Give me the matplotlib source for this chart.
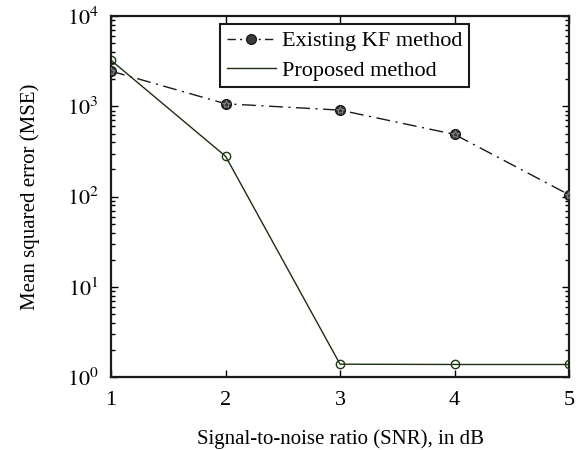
import matplotlib
matplotlib.use("Agg")
import matplotlib.pyplot as plt
from matplotlib.lines import Line2D
from matplotlib.ticker import LogLocator, FixedLocator, NullFormatter

plt.rcParams['font.family'] = ['Liberation Serif', 'DejaVu Serif']
plt.rcParams['mathtext.fontset'] = 'stix'

snr = [1, 2, 3, 4, 5]
mse_kf = [2460, 1070, 910, 490, 105]
mse_proposed = [3240, 280, 1.39, 1.38, 1.38]
x_ticks = [1, 2, 3, 4, 5]
y_ticks = [1, 10, 100, 1000, 10000]
y_tick_labels = [r'$10^{0}$', r'$10^{1}$', r'$10^{2}$', r'$10^{3}$', r'$10^{4}$']
series_labels = ['Existing KF method', 'Proposed method']

fig = plt.figure(figsize=(5.85, 4.5), dpi=100)
ax = fig.add_axes([0.19, 0.162, 0.7826, 0.802])

kf_style = (0, (10, 4, 1.5, 4))
ax.plot(snr, mse_kf, color='#1a1a1a', lw=1.0, linestyle=kf_style,
        marker='o', markersize=7, markerfacecolor='#3a3a3a',
        markeredgecolor='#1a1a1a', zorder=3)
ax.plot(snr, mse_kf, linestyle='none', marker='*', markersize=6,
        markerfacecolor='none', markeredgecolor='#8a8a8a', markeredgewidth=0.6,
        zorder=4)
ax.plot(snr, mse_proposed, color='#1e2d14', lw=1.0,
        marker='o', markersize=6, markerfacecolor='none',
        markeredgecolor='#1e3a10', markeredgewidth=1.0, zorder=3)

ax.set_yscale('log')
ax.set_xlim(1, 5)
ax.set_ylim(1, 10000)
ax.xaxis.set_major_locator(FixedLocator(x_ticks))
ax.set_xticklabels([str(v) for v in x_ticks])
ax.yaxis.set_major_locator(FixedLocator(y_ticks))
ax.set_yticklabels(y_tick_labels)
ax.yaxis.set_minor_locator(LogLocator(base=10, subs=range(2, 10), numticks=20))
ax.yaxis.set_minor_formatter(NullFormatter())

ax.tick_params(which='both', direction='in', top=True, right=True,
               labelsize=16, width=1.0)
ax.tick_params(which='major', length=5)
ax.tick_params(axis='x', which='major', pad=10)
ax.tick_params(axis='y', which='major', pad=9)
ax.tick_params(which='minor', length=3)
for s in ax.spines.values():
    s.set_linewidth(1.6)
    s.set_color('#1a1a1a')

ax.set_xlabel('Signal-to-noise ratio (SNR), in dB', fontsize=15, labelpad=14)
ax.set_ylabel('Mean squared error (MSE)', fontsize=15, labelpad=19)

handles = [
    Line2D([], [], color='#1a1a1a', lw=1.0, linestyle=(0, (6, 3, 1.5, 3)),
           marker='o', markersize=7, markerfacecolor='#3a3a3a',
           markeredgecolor='#1a1a1a'),
    Line2D([], [], color='#1e2d14', lw=1.0),
]
leg = ax.legend(handles, series_labels, loc='upper center',
                bbox_to_anchor=(0.51, 0.978), fontsize=16,
                fancybox=False, framealpha=1, edgecolor='#1a1a1a',
                handlelength=2.2, handletextpad=0.3, borderpad=0.3,
                labelspacing=0.4, borderaxespad=0)
leg.get_frame().set_linewidth(1.5)

fig.savefig('out.png', dpi=100)
